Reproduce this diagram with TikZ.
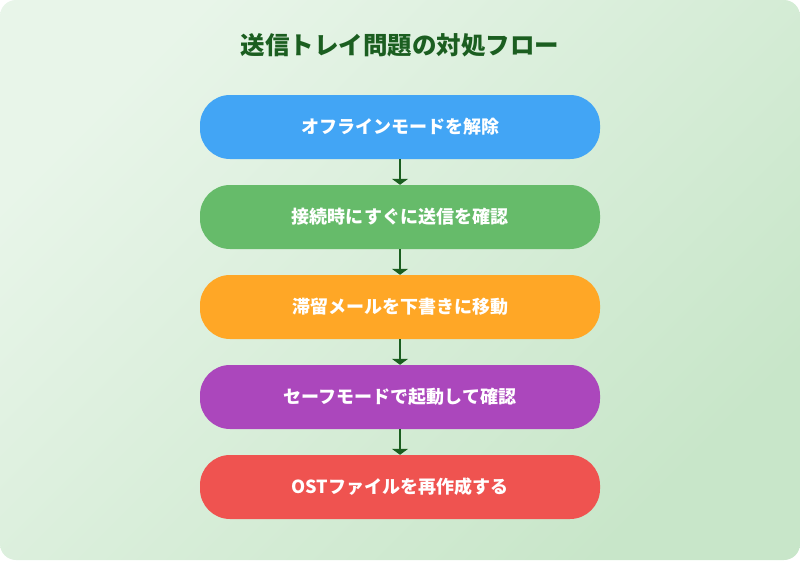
\documentclass[tikz,border=0pt]{standalone}
\usepackage{fontspec}
\setmainfont{Noto Sans CJK JP}
\usetikzlibrary{arrows.meta}
\definecolor{bgtop}{HTML}{E8F5E9}
\definecolor{bgbot}{HTML}{C8E6C9}
\definecolor{titlegreen}{HTML}{1B5E20}
\definecolor{cblue}{HTML}{42A5F5}
\definecolor{cgreen}{HTML}{66BB6A}
\definecolor{corange}{HTML}{FFA726}
\definecolor{cpurple}{HTML}{AB47BC}
\definecolor{cred}{HTML}{EF5350}
\tikzset{
  stepbox/.style={rounded corners=30pt, minimum width=400pt, minimum height=64pt,
    text=white, font=\bfseries\fontsize{18pt}{20pt}\selectfont, inner sep=0pt},
  flowarrow/.style={-{Triangle[width=16pt,length=6pt]}, line width=2.4pt, draw=titlegreen}
}
\begin{document}
\begin{tikzpicture}[x=1pt, y=-1pt]
\useasboundingbox (0,0) rectangle (800,560);
\shade[rounded corners=16pt, top color=bgtop, bottom color=bgbot, shading angle=45] (0,0) rectangle (800,560);
\node[text=titlegreen, font=\bfseries\fontsize{24.5pt}{27pt}\selectfont] (title) at (400,45) {送信トレイ問題の対処フロー};
\foreach \i/\col/\txt in {1/cblue/オフラインモードを解除,
                          2/cgreen/接続時にすぐに送信を確認,
                          3/corange/滞留メールを下書きに移動,
                          4/cpurple/セーフモードで起動して確認,
                          5/cred/OSTファイルを再作成する}
{
    \node[stepbox, fill=\col] (s\i) at (400,{127+90*(\i-1)}) {\txt};
}
\foreach \i [evaluate=\i as \j using int(\i+1)] in {1,...,4}
{
    \draw[flowarrow] (s\i.south) -- (s\j.north);
}
\end{tikzpicture}
\end{document}
